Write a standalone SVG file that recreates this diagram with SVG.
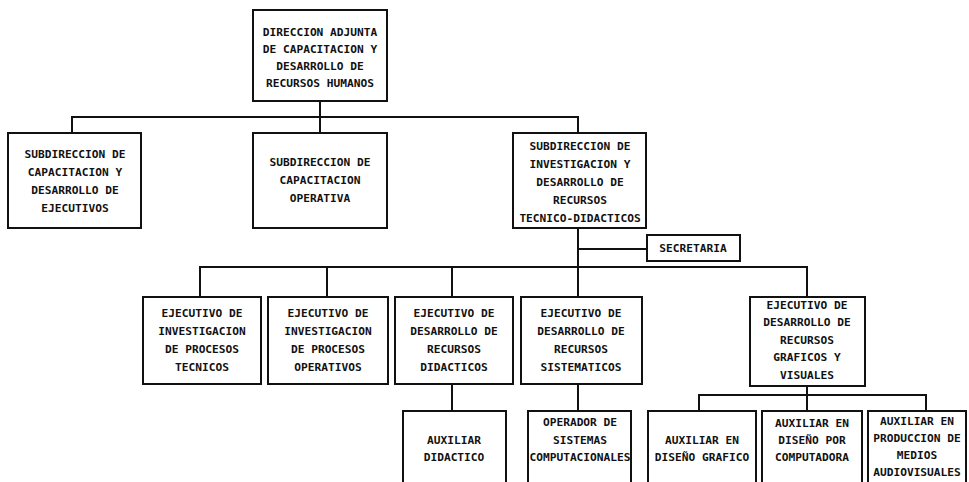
<svg xmlns="http://www.w3.org/2000/svg" width="969" height="482" viewBox="0 0 969 482">
  <style>
    .box { fill: #ffffff; stroke: #111111; stroke-width: 2; }
    .wire { fill: none; stroke: #111111; stroke-width: 2; stroke-linecap: square; }
    text { font-family: "DejaVu Sans Mono", "Liberation Mono", monospace; font-size: 11.2px; font-weight: bold; fill: #111111; text-anchor: middle; }
  </style>
  <rect width="969" height="482" fill="#ffffff"/>

  <!-- connectors -->
  <g id="connectors" class="wire">
    <path d="M320 101 V117"/>
    <path d="M72 133 V117 H578 V297"/>
    <path d="M320 117 V133"/>
    <path d="M578 249 H647"/>
    <path d="M200 297 V267 H807 V297"/>
    <path d="M327 267 V297"/>
    <path d="M452 267 V297"/>
    <path d="M452 384 V411"/>
    <path d="M578 384 V411"/>
    <path d="M807 386 V411"/>
    <path d="M699 411 V395 H926 V411"/>
  </g>

  <!-- top level -->
  <g id="direccion-adjunta">
    <rect class="box" x="253" y="10" width="134" height="91"/>
    <text x="320" y="36">DIRECCION ADJUNTA</text>
    <text x="320" y="53">DE CAPACITACION Y</text>
    <text x="320" y="70">DESARROLLO DE</text>
    <text x="320" y="87">RECURSOS HUMANOS</text>
  </g>

  <!-- second level -->
  <g id="sub-ejecutivos">
    <rect class="box" x="8" y="133" width="133" height="95"/>
    <text x="75" y="158">SUBDIRECCION DE</text>
    <text x="75" y="176">CAPACITACION Y</text>
    <text x="75" y="194">DESARROLLO DE</text>
    <text x="75" y="212">EJECUTIVOS</text>
  </g>
  <g id="sub-operativa">
    <rect class="box" x="253" y="133" width="134" height="95"/>
    <text x="320" y="166">SUBDIRECCION DE</text>
    <text x="320" y="184">CAPACITACION</text>
    <text x="320" y="202">OPERATIVA</text>
  </g>
  <g id="sub-investigacion">
    <rect class="box" x="513" y="133" width="133" height="95"/>
    <text x="580" y="150">SUBDIRECCION DE</text>
    <text x="580" y="168">INVESTIGACION Y</text>
    <text x="580" y="186">DESARROLLO DE</text>
    <text x="580" y="204">RECURSOS</text>
    <text x="580" y="222">TECNICO-DIDACTICOS</text>
  </g>
  <g id="secretaria">
    <rect class="box" x="647" y="235" width="93" height="26"/>
    <text x="693" y="252">SECRETARIA</text>
  </g>

  <!-- executives -->
  <g id="ej-procesos-tecnicos">
    <rect class="box" x="143" y="297" width="118" height="87"/>
    <text x="202" y="317">EJECUTIVO DE</text>
    <text x="202" y="335">INVESTIGACION</text>
    <text x="202" y="353">DE PROCESOS</text>
    <text x="202" y="371">TECNICOS</text>
  </g>
  <g id="ej-procesos-operativos">
    <rect class="box" x="268" y="297" width="120" height="87"/>
    <text x="328" y="317">EJECUTIVO DE</text>
    <text x="328" y="335">INVESTIGACION</text>
    <text x="328" y="353">DE PROCESOS</text>
    <text x="328" y="371">OPERATIVOS</text>
  </g>
  <g id="ej-recursos-didacticos">
    <rect class="box" x="395" y="297" width="118" height="87"/>
    <text x="454" y="317">EJECUTIVO DE</text>
    <text x="454" y="335">DESARROLLO DE</text>
    <text x="454" y="353">RECURSOS</text>
    <text x="454" y="371">DIDACTICOS</text>
  </g>
  <g id="ej-recursos-sistematicos">
    <rect class="box" x="521" y="297" width="121" height="87"/>
    <text x="581" y="317">EJECUTIVO DE</text>
    <text x="581" y="335">DESARROLLO DE</text>
    <text x="581" y="353">RECURSOS</text>
    <text x="581" y="371">SISTEMATICOS</text>
  </g>
  <g id="ej-recursos-graficos">
    <rect class="box" x="750" y="297" width="115" height="89"/>
    <text x="807" y="309">EJECUTIVO DE</text>
    <text x="807" y="326">DESARROLLO DE</text>
    <text x="807" y="344">RECURSOS</text>
    <text x="807" y="361">GRAFICOS Y</text>
    <text x="807" y="379">VISUALES</text>
  </g>

  <!-- assistants -->
  <g id="aux-didactico">
    <rect class="box" x="403" y="411" width="103" height="80"/>
    <text x="454" y="444">AUXILIAR</text>
    <text x="454" y="461">DIDACTICO</text>
  </g>
  <g id="operador-sistemas">
    <rect class="box" x="528" y="411" width="103" height="80"/>
    <text x="580" y="426">OPERADOR DE</text>
    <text x="580" y="444">SISTEMAS</text>
    <text x="580" y="461">COMPUTACIONALES</text>
  </g>
  <g id="aux-diseno-grafico">
    <rect class="box" x="648" y="411" width="108" height="80"/>
    <text x="702" y="444">AUXILIAR EN</text>
    <text x="702" y="461">DISEÑO GRAFICO</text>
  </g>
  <g id="aux-diseno-computadora">
    <rect class="box" x="762" y="411" width="100" height="80"/>
    <text x="812" y="427">AUXILIAR EN</text>
    <text x="812" y="444">DISEÑO POR</text>
    <text x="812" y="461">COMPUTADORA</text>
  </g>
  <g id="aux-audiovisuales">
    <rect class="box" x="868" y="411" width="98" height="80"/>
    <text x="917" y="425">AUXILIAR EN</text>
    <text x="917" y="442">PRODUCCION DE</text>
    <text x="917" y="459">MEDIOS</text>
    <text x="917" y="476">AUDIOVISUALES</text>
  </g>
</svg>
